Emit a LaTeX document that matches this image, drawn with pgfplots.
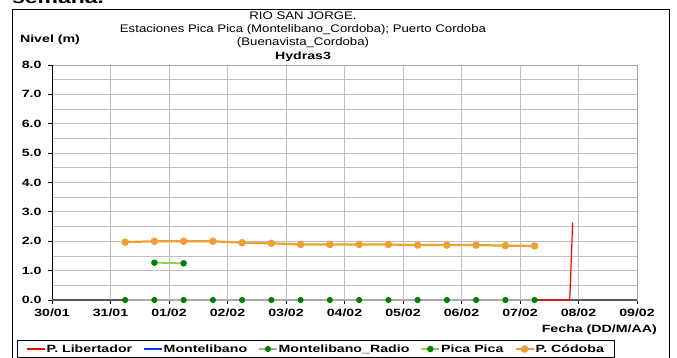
\documentclass[border=0pt]{standalone}
\usepackage{fontspec}
\setmainfont{Liberation Sans}[FakeStretch=1.2, BoldFeatures={FakeStretch=1.35}]
\usepackage{pgfplots}
\pgfplotsset{compat=1.18}
\definecolor{cOrange}{RGB}{240,160,48}
\definecolor{cLgreen}{RGB}{140,210,80}
\definecolor{cDgreen}{RGB}{0,128,0}
\definecolor{cRed}{RGB}{255,0,0}
\definecolor{cBlue}{RGB}{0,60,220}
\definecolor{cGrey}{RGB}{170,170,170}
\definecolor{cGrid}{RGB}{192,192,192}
\begin{document}
\begin{tikzpicture}[x=1pt,y=1pt]
\useasboundingbox (0,0) rectangle (677,357);
\draw[black, line width=1pt] (12,-5) rectangle (669,347);
\node[anchor=base west, inner sep=0pt, font=\fontsize{17}{20}\selectfont\bfseries] at (12,353) {semana.};
% titles
\node[font=\fontsize{11}{13}\selectfont] at (303,341) {RIO SAN JORGE.};
\node[font=\fontsize{11}{13}\selectfont] at (303,327) {Estaciones Pica Pica (Montelibano\_Cordoba); Puerto Cordoba};
\node[font=\fontsize{11}{13}\selectfont] at (303,314) {(Buenavista\_Cordoba)};
\node[font=\fontsize{10.5}{13}\selectfont\bfseries] at (303,300) {Hydras3};
\node[font=\fontsize{10.5}{13}\selectfont\bfseries] at (50,317) {Nivel (m)};
\node[anchor=east, inner sep=0pt, font=\fontsize{10.5}{13}\selectfont\bfseries] at (657,27) {Fecha (DD/M/AA)};
\begin{axis}[
  at={(52pt,57pt)}, anchor=south west, scale only axis,
  width=585pt, height=235pt,
  xmin=0, xmax=10, ymin=0, ymax=8,
  xtick={0,...,10},
  xticklabels={30/01,31/01,01/02,02/02,03/02,04/02,05/02,06/02,07/02,08/02,09/02},
  ytick={0,1,...,8}, minor ytick={0.5,1.5,...,7.5},
  /pgf/number format/assume math mode=true,
  yticklabel style={xshift=-3pt, /pgf/number format/.cd, fixed, fixed zerofill, precision=1},
  xticklabel style={yshift=-1pt},
  tick label style={font=\fontsize{10.5}{12}\selectfont\bfseries},
  grid=both,
  major grid style={cGrid, line width=0.8pt},
  minor grid style={cGrid, line width=0.8pt},
  minor tick length=0pt,
  major tick length=4pt,
  tick align=outside,
  tick pos=left,
  tick style={black, line width=0.8pt},
  axis line style={gray!70, line width=0.8pt},
  clip=false,
  legend columns=5,
  legend cell align=left,
  legend style={at={(-0.0598,-0.1702)}, anchor=north west, draw=black, line width=0.8pt,
    font=\fontsize{10.5}{12}\selectfont\bfseries, inner ysep=2pt, inner xsep=9pt,
    /tikz/every even column/.append style={column sep=10pt},
    nodes={inner xsep=1pt}},
  legend image code/.code={\draw[mark repeat=2,mark phase=2] plot coordinates {(0pt,0pt) (9pt,0pt) (18pt,0pt)};},
]
\draw[black, line width=1pt] (rel axis cs:0,0) -- (rel axis cs:0,1);
\draw[gray!70!black, line width=1.2pt] (rel axis cs:0,0) -- (rel axis cs:1,0);
\addplot[cRed, line width=1.2pt, mark=none] coordinates {(7.66,0) (8.85,0) (8.90,2.63)};
\addlegendentry{P. Libertador}
\addlegendimage{cBlue, line width=1.5pt, mark=none}
\addlegendentry{Montelibano}
\addplot[cGrey, line width=1.5pt, mark=*, mark size=2.3pt, mark options={fill=cDgreen, draw=cDgreen}] coordinates {
(1.25,0) (1.75,0) (2.25,0) (2.75,0) (3.25,0) (3.75,0) (4.25,0) (4.75,0)
(5.25,0) (5.75,0) (6.25,0) (6.75,0) (7.25,0) (7.75,0) (8.25,0)};
\addlegendentry{Montelibano\_Radio}
\addplot[cLgreen, line width=1.8pt, mark=*, mark size=2.3pt, mark options={fill=cDgreen, draw=cDgreen}] coordinates {
(1.75,1.27) (2.25,1.25)};
\addlegendentry{Pica Pica}
\addplot[cOrange, line width=2.2pt, mark=*, mark size=2.6pt, mark options={fill=cOrange, draw=cOrange}] coordinates {
(1.25,1.97) (1.75,2.00) (2.25,2.00) (2.75,2.00) (3.25,1.95) (3.75,1.93) (4.25,1.89) (4.75,1.89)
(5.25,1.89) (5.75,1.89) (6.25,1.87) (6.75,1.87) (7.25,1.87) (7.75,1.85) (8.25,1.84)};
\addlegendentry{P. Códoba}
\end{axis}
\end{tikzpicture}
\end{document}
